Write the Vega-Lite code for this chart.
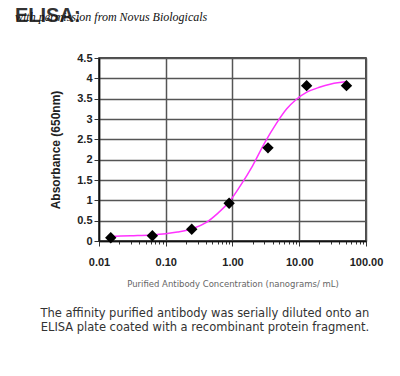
{
  "$schema": "https://vega.github.io/schema/vega-lite/v6.json",
  "background": "white",
  "padding": {"left": 14, "top": 5, "right": 5, "bottom": 5},
  "datasets": {
    "points": [
      {"conc": 0.015, "abs": 0.08},
      {"conc": 0.063, "abs": 0.13},
      {"conc": 0.245, "abs": 0.29},
      {"conc": 0.89, "abs": 0.93},
      {"conc": 3.4, "abs": 2.29},
      {"conc": 12.9, "abs": 3.82},
      {"conc": 51, "abs": 3.82}
    ],
    "curve": [
      {"conc": 0.015, "abs": 0.11},
      {"conc": 0.03, "abs": 0.13},
      {"conc": 0.06, "abs": 0.15},
      {"conc": 0.1, "abs": 0.18},
      {"conc": 0.15, "abs": 0.22},
      {"conc": 0.25, "abs": 0.3},
      {"conc": 0.4, "abs": 0.45},
      {"conc": 0.6, "abs": 0.68},
      {"conc": 0.9, "abs": 0.97},
      {"conc": 1.3, "abs": 1.35},
      {"conc": 2, "abs": 1.85},
      {"conc": 3, "abs": 2.4},
      {"conc": 4.5, "abs": 2.88},
      {"conc": 6.5, "abs": 3.25},
      {"conc": 9, "abs": 3.48},
      {"conc": 13, "abs": 3.66},
      {"conc": 20, "abs": 3.78},
      {"conc": 30, "abs": 3.86},
      {"conc": 51, "abs": 3.92}
    ]
  },
  "title": {
    "text": ["The affinity purified antibody was serially diluted onto an", "ELISA plate coated with a recombinant protein fragment."],
    "orient": "bottom",
    "anchor": "middle",
    "font": "DejaVu Sans",
    "fontSize": 11.5,
    "fontWeight": "normal",
    "color": "#333333",
    "lineHeight": 13.5,
    "offset": 20,
    "dx": 6
  },
  "config": {
    "view": {"stroke": "#111111", "strokeWidth": 1.5},
    "axis": {
      "labelFont": "Liberation Sans",
      "labelFontWeight": "bold",
      "labelFontSize": 11,
      "labelColor": "#222222",
      "labelOverlap": false,
      "domainColor": "#111111",
      "domainWidth": 1.5,
      "tickColor": "#333333",
      "tickWidth": 1,
      "gridColor": "#555555",
      "gridWidth": 1.5
    }
  },
  "vconcat": [
    {
      "width": 267,
      "height": 183,
      "title": {
        "text": "ELISA:",
        "subtitle": "with permission from Novus Biologicals",
        "anchor": "start",
        "frame": "group",
        "dx": -84,
        "font": "Liberation Sans",
        "fontSize": 20,
        "fontWeight": "bold",
        "color": "#333333",
        "subtitleFont": "Liberation Serif",
        "subtitleFontStyle": "italic",
        "subtitleFontSize": 12,
        "subtitleColor": "#111111",
        "subtitlePadding": -14,
        "offset": 26
      },
      "encoding": {
        "x": {
          "field": "conc",
          "type": "quantitative",
          "scale": {"type": "log", "domain": [0.01, 100], "nice": false},
          "axis": {
            "values": [0.01, 0.02, 0.03, 0.04, 0.05, 0.06, 0.07, 0.08, 0.09, 0.1, 0.2, 0.3, 0.4, 0.5, 0.6, 0.7, 0.8, 0.9, 1, 2, 3, 4, 5, 6, 7, 8, 9, 10, 20, 30, 40, 50, 60, 70, 80, 90, 100],
            "labelExpr": "indexof([0.01, 0.1, 1, 10, 100], datum.value) >= 0 ? format(datum.value, '.2f') : ''",
            "gridOpacity": {"condition": {"test": "indexof([0.01, 0.1, 1, 10, 100], datum.value) < 0", "value": 0}, "value": 1},
            "tickSize": {"condition": {"test": "indexof([0.01, 0.1, 1, 10, 100], datum.value) < 0", "value": 3}, "value": 5},
            "labelPadding": 10,
            "labelFlush": false,
            "title": "Purified Antibody Concentration (nanograms/ mL)",
            "titleFont": "DejaVu Sans",
            "titleFontSize": 8.5,
            "titleFontWeight": "normal",
            "titleColor": "#666666",
            "titlePadding": 12
          }
        },
        "y": {
          "field": "abs",
          "type": "quantitative",
          "scale": {"domain": [0, 4.5], "nice": false},
          "axis": {
            "values": [0, 0.5, 1, 1.5, 2, 2.5, 3, 3.5, 4, 4.5],
            "format": "~g",
            "tickSize": 5,
            "labelPadding": 2,
            "title": "Absorbance (650nm)",
            "titleFont": "Liberation Sans",
            "titleFontSize": 12,
            "titleFontWeight": "bold",
            "titleColor": "#222222",
            "titlePadding": 14
          }
        }
      },
      "layer": [
        {
          "data": {"name": "curve"},
          "mark": {"type": "line", "color": "#ff33ff", "strokeWidth": 1.5, "interpolate": "monotone"}
        },
        {
          "data": {"name": "points"},
          "mark": {"type": "point", "shape": "diamond", "filled": true, "color": "#000000", "size": 130, "opacity": 1}
        }
      ]
    }
  ]
}
